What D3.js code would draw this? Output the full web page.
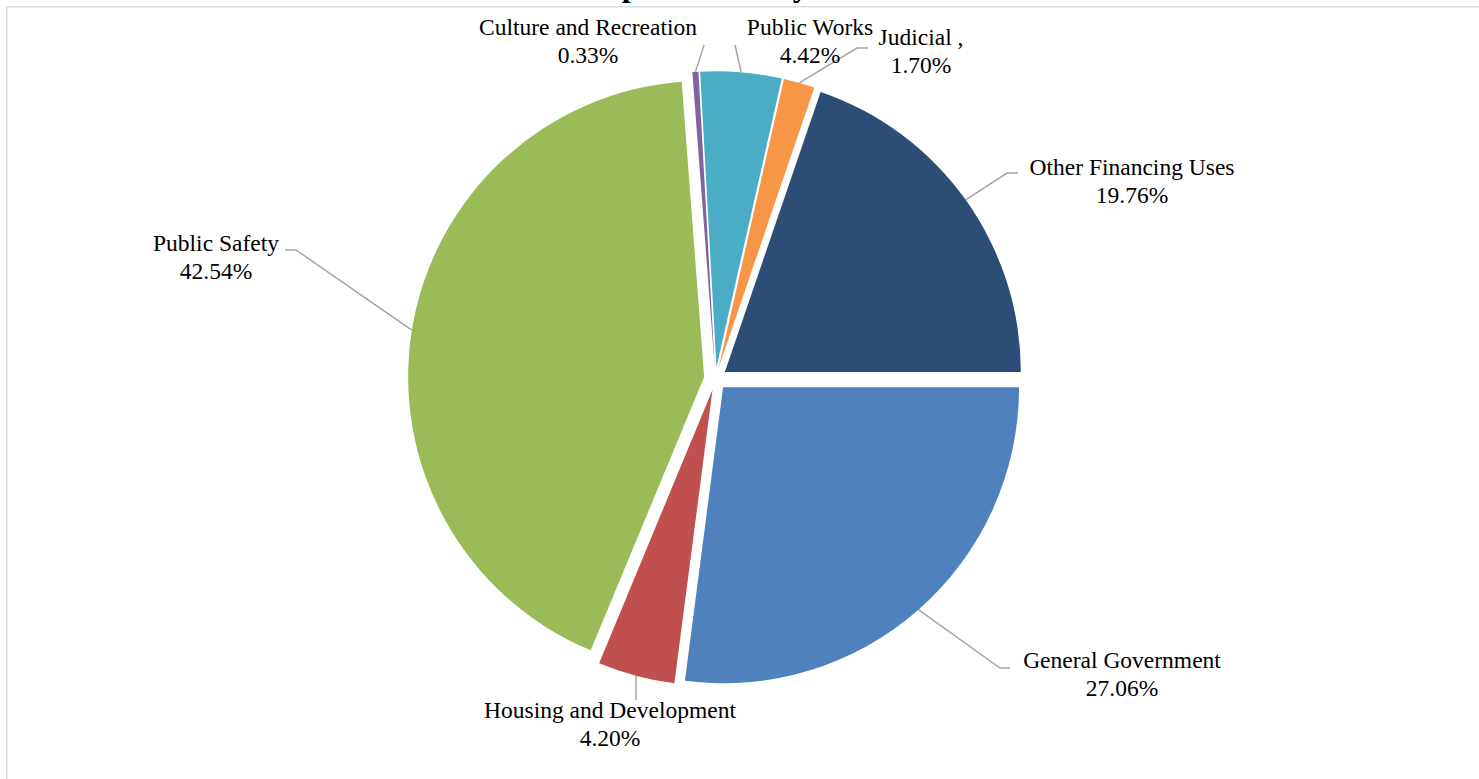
<!DOCTYPE html>
<html>
<head>
<meta charset="utf-8">
<script src="https://cdn.jsdelivr.net/npm/d3@7/dist/d3.min.js"></script>
<style>
  html, body { margin: 0; padding: 0; background: #ffffff; }
  svg { display: block; }
  text { font-family: "Times New Roman", "Liberation Serif", serif; fill: #000; }
</style>
</head>
<body>
<svg id="chart" width="1479" height="779"></svg>
<script>
// ---- data ----
const categories = ["General Government", "Housing and Development", "Public Safety",
  "Culture and Recreation", "Public Works", "Judicial ,", "Other Financing Uses"];
const values = [27.06, 4.20, 42.54, 0.33, 4.42, 1.70, 19.76];
const valueLabels = ["27.06%", "4.20%", "42.54%", "0.33%", "4.42%", "1.70%", "19.76%"];
const titleText = "Expenditures by Function";

// ---- layout / style (not data) ----
const colors = ["#4f81bd", "#c0504d", "#9bbb59", "#8064a2", "#4bacc6", "#f79646", "#2c4d75"];
const W = 1479, H = 779;
const cx = 715.5, cy = 378.7, R = 296, explode = 11.5;
const fontSize = 23.5, lineGap = 27.5;
const labelLayout = [
  {x: 1122, y: 668, elbow: [1000, 668], end: [1010, 668]},
  {x: 610, y: 718, elbow: null, end: [636, 700]},
  {x: 216, y: 251, elbow: [296, 250], end: [285, 250]},
  {x: 588, y: 35, elbow: null, end: [704, 45]},
  {x: 810, y: 35, elbow: null, end: [735, 45]},
  {x: 921, y: 45, elbow: [857, 48], end: [868, 48]},
  {x: 1132, y: 175, elbow: [1007, 173], end: [1018, 173]}
];

const svg = d3.select("#chart");

// title (mostly cut off above the chart area, as in the reference)
svg.append("text")
  .attr("x", 762).attr("y", -4)
  .attr("text-anchor", "middle")
  .style("font-size", "32px").style("font-weight", "bold")
  .text(titleText);

// border lines
svg.append("line").attr("x1", 6.75).attr("y1", 6.75).attr("x2", W).attr("y2", 6.75)
  .attr("stroke", "#d9d9d9").attr("stroke-width", 1.5);
svg.append("line").attr("x1", 6.75).attr("y1", 6.75).attr("x2", 6.75).attr("y2", H)
  .attr("stroke", "#d9d9d9").attr("stroke-width", 1.5);

const pie = d3.pie().sort(null).value(d => d)
  .startAngle(Math.PI / 2).endAngle(Math.PI / 2 + 2 * Math.PI);
const arcs = pie(values);
const arc = d3.arc().innerRadius(0).outerRadius(R);

const g = svg.append("g").attr("transform", `translate(${cx},${cy})`);

function offsetOf(d) {
  const a = (d.startAngle + d.endAngle) / 2;
  return [explode * Math.sin(a), -explode * Math.cos(a)];
}

g.selectAll("path.slice").data(arcs).enter().append("path")
  .attr("class", "slice")
  .attr("d", arc)
  .attr("transform", d => { const o = offsetOf(d); return `translate(${o[0]},${o[1]})`; })
  .attr("fill", (d, i) => colors[i]);

// leader lines
arcs.forEach((d, i) => {
  const a = (d.startAngle + d.endAngle) / 2;
  const px = cx + (R + explode) * Math.sin(a);
  const py = cy - (R + explode) * Math.cos(a);
  const L = labelLayout[i];
  const pts = [[px, py]];
  if (L.elbow) pts.push(L.elbow);
  pts.push(L.end);
  svg.append("path")
    .attr("d", d3.line()(pts))
    .attr("fill", "none").attr("stroke", "#a6a6a6").attr("stroke-width", 1.5);
});

// labels
arcs.forEach((d, i) => {
  const L = labelLayout[i];
  const t = svg.append("text").attr("text-anchor", "middle").style("font-size", fontSize + "px");
  t.append("tspan").attr("x", L.x).attr("y", L.y).text(categories[i]);
  t.append("tspan").attr("x", L.x).attr("y", L.y + lineGap).text(valueLabels[i]);
});
</script>
</body>
</html>
